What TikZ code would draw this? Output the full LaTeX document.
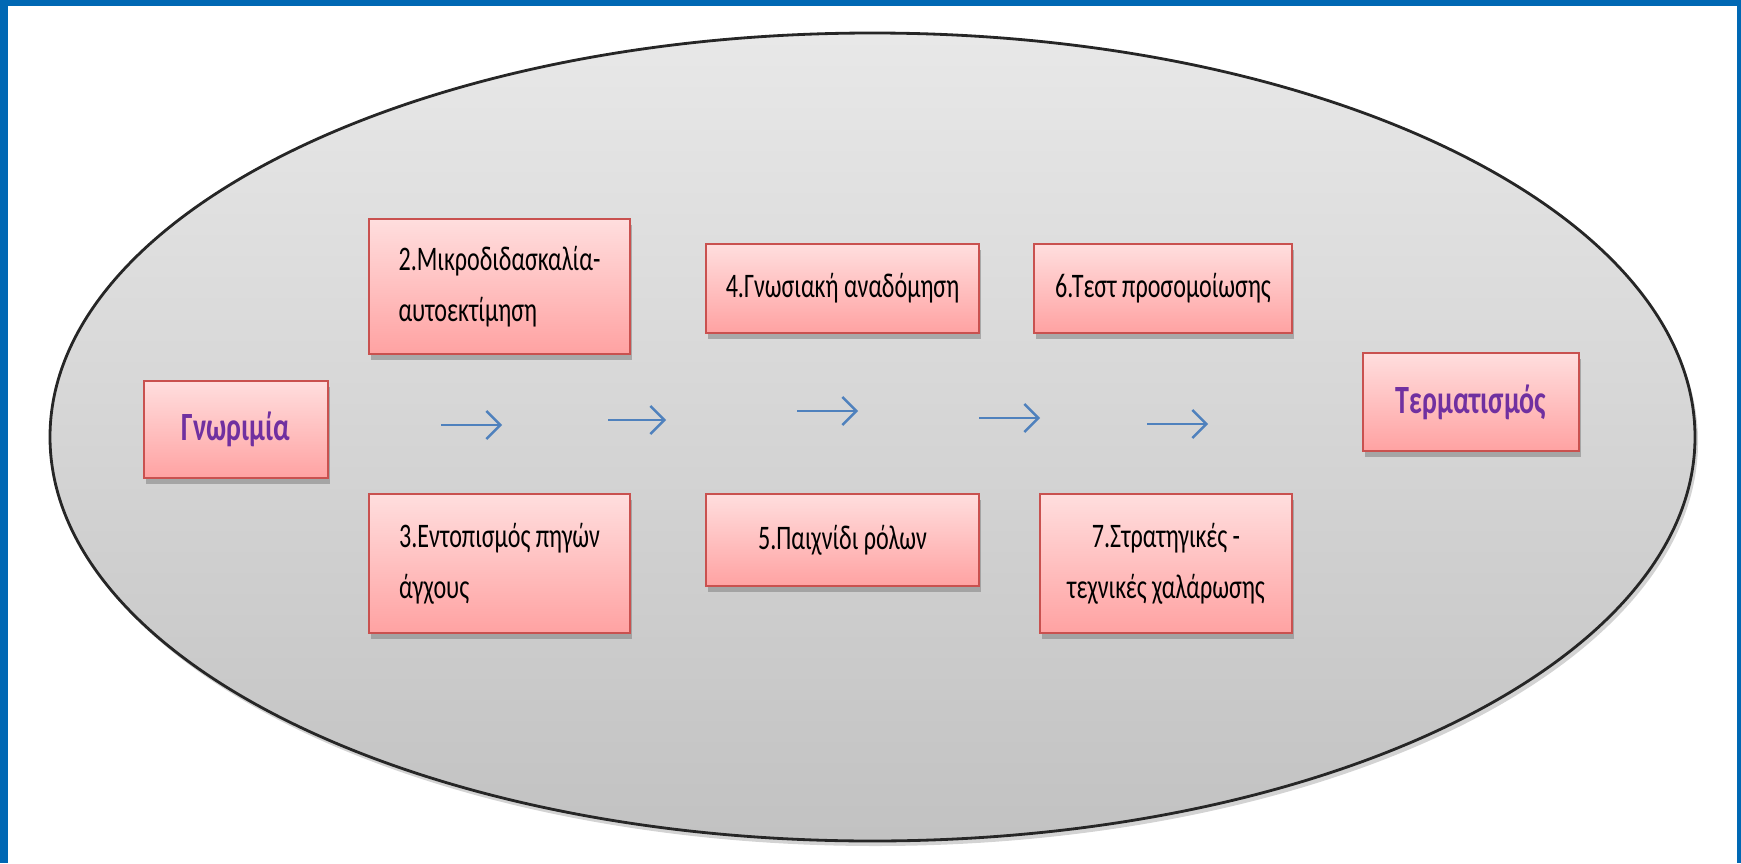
\documentclass[tikz,border=0pt]{standalone}
\usepackage{fontspec}
\setmainfont{Carlito}[FakeStretch=0.7]
\usetikzlibrary{shapes.geometric,shadows,arrows.meta}
\definecolor{framblue}{HTML}{0068B4}
\definecolor{boxred}{HTML}{C9514F}
\definecolor{boxtop}{HTML}{FFDEDE}
\definecolor{boxbottom}{HTML}{FFA2A2}
\definecolor{titlepurple}{HTML}{7030A0}
\definecolor{arrowblue}{HTML}{4F81BD}
\begin{document}
\begin{tikzpicture}
[ovaldecorate/.style={shape=ellipse,inner sep=0pt,draw=black!85,line width=0.8pt,
   top color=black!9,bottom color=black!24,
   drop shadow={shadow xshift=0.3mm,shadow yshift=-0.5mm,opacity=0.35}},
 boxdecorate/.style={shape=rectangle,inner sep=0pt,draw=boxred,line width=0.6pt,
   top color=boxtop,bottom color=boxbottom,
   font=\fontsize{9.8}{14.5}\selectfont,
   drop shadow={shadow xshift=0.2mm,shadow yshift=-0.6mm,opacity=0.55}},
 plaindecorate/.style={text=black},
 titledecorate/.style={font=\fontsize{11.4}{13}\selectfont\bfseries,text=titlepurple},
 arrowdecorate/.style={-{Straight Barb[length=1.4mm,width=2.8mm]},draw=arrowblue,line width=0.7pt}]
\useasboundingbox (0,0) rectangle (17.41,-8.63);
%% frame
\fill[framblue] (0,0) rectangle (17.41,-0.06);
\fill[framblue] (0,0) rectangle (0.08,-8.63);
\fill[framblue] (17.37,0) rectangle (17.41,-8.63);
%% oval
\node (oval) at (8.725,-4.37) [ovaldecorate,minimum width=16.45cm,minimum height=8.08cm] {};
%% boxes
\foreach \nodename/\x/\y/\w/\h/\layout/\look/\txt in {
  gnor/2.36/-4.295/1.84/0.97/center/titledecorate/{Γνωριμία},
  mikro/4.995/-2.865/2.61/1.35/left/plaindecorate/{2.Μικροδιδασκαλία-\\αυτοεκτίμηση},
  entop/4.995/-5.635/2.61/1.39/left/plaindecorate/{3.Εντοπισμός πηγών\\άγχους},
  gnos/8.425/-2.885/2.73/0.89/center/plaindecorate/{4.Γνωσιακή αναδόμηση},
  paix/8.425/-5.40/2.73/0.92/center/plaindecorate/{5.Παιχνίδι ρόλων},
  test/11.63/-2.885/2.58/0.89/center/plaindecorate/{6.Τεστ προσομοίωσης},
  strat/11.66/-5.635/2.52/1.39/center/plaindecorate/{7.Στρατηγικές -\\τεχνικές χαλάρωσης},
  term/14.71/-4.02/2.16/0.98/center/titledecorate/{Τερματισμός}} {
  \node (\nodename) at (\x,\y) [boxdecorate,\look,minimum width=\w cm,minimum height=\h cm,align=\layout] {\txt};
}
%% arrows
\foreach \i/\xa/\xb/\y in {1/4.41/5.02/-4.25, 2/6.08/6.66/-4.20, 3/7.97/8.58/-4.11,
  4/9.79/10.40/-4.18, 5/11.47/12.08/-4.24} {
  \coordinate (from\i) at (\xa,\y);
  \coordinate (to\i) at (\xb,\y);
  \draw[arrowdecorate] (from\i) -- (to\i);
}
\end{tikzpicture}
\end{document}
